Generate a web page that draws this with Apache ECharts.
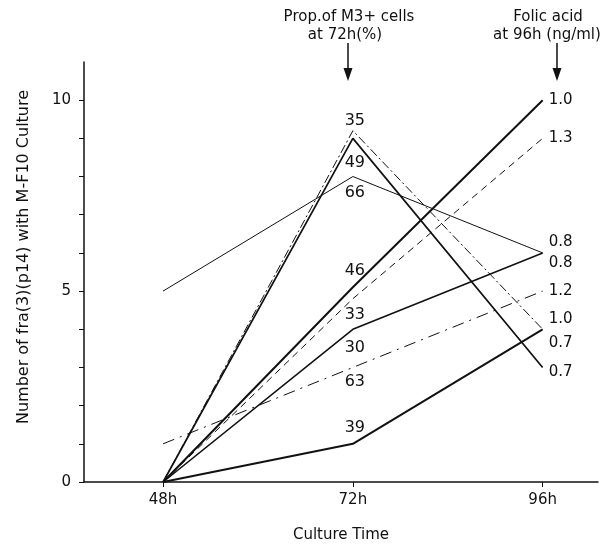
<!DOCTYPE html>
<html>
<head>
<meta charset="utf-8">
<script src="https://cdn.jsdelivr.net/npm/echarts@6/dist/echarts.min.js"></script>
<style>
  html, body { margin: 0; padding: 0; background: #fff; }
  #chart { width: 616px; height: 548px; }
</style>
</head>
<body>
<div id="chart"></div>
<script>
// culture time (hours) and tick labels
const hours = [48, 72, 96];
const hourLabels = ['48h', '72h', '96h'];
const yTickValues = [0, 5, 10];

// number of fra(3)(p14) at 48h, 72h, 96h for each culture
const cultureA = [0, 9.2, 4];
const cultureB = [0, 9, 3];
const cultureC = [5, 8, 6];
const cultureD = [0, 5.1, 10];
const cultureE = [0, 4.8, 9];
const cultureF = [0, 4, 6];
const cultureG = [1, 3, 5];
const cultureH = [0, 1, 4];

// proportion of M3+ cells at 72h (%) and folic acid at 96h (ng/ml)
const m3Labels = ['35', '49', '66', '46', '33', '30', '63', '39'];
const folicLabels = ['1.0', '0.7', '0.8', '1.0', '1.3', '0.8', '1.2', '0.7'];

const cultures = [cultureA, cultureB, cultureC, cultureD, cultureE, cultureF, cultureG, cultureH];

// line look and label nudges, one per culture
const looks = [
  { width: 1, type: [9, 3, 2, 3], m3Off: [2, -10], folicOff: [0, -10] },
  { width: 1.7, type: 'solid', m3Off: [2, 24], folicOff: [0, 5] },
  { width: 1, type: 'solid', m3Off: [2, 16], folicOff: [0, -11] },
  { width: 2, type: 'solid', m3Off: [2, -16], folicOff: [0, 0] },
  { width: 1, type: [7, 5], m3Off: [2, 16], folicOff: [0, 0] },
  { width: 1.6, type: 'solid', m3Off: [2, 19], folicOff: [0, 10] },
  { width: 1, type: [12, 6, 2, 6], m3Off: [2, 14], folicOff: [0, 0] },
  { width: 2, type: 'solid', m3Off: [2, -16], folicOff: [0, 14] }
];

const ink = '#111';
const font = 'DejaVu Sans';

const series = cultures.map((vals, k) => ({
  type: 'line',
  symbol: 'circle',
  symbolSize: 0.1,
  itemStyle: { color: ink },
  lineStyle: { color: ink, width: looks[k].width, type: looks[k].type },
  data: vals.map((v, i) => {
    const item = { value: [hours[i], v] };
    if (i === 1) {
      item.label = { show: true, position: 'inside', offset: looks[k].m3Off,
        formatter: m3Labels[k], fontSize: 16 };
    } else if (i === 2) {
      item.label = { show: true, position: 'right', distance: 6, offset: looks[k].folicOff,
        formatter: folicLabels[k], fontSize: 15 };
    }
    return item;
  }),
  label: { show: false, color: ink, fontFamily: font },
  emphasis: { disabled: true }
}));

const chart = echarts.init(document.getElementById('chart'));
chart.setOption({
  animation: false,
  backgroundColor: '#fff',
  grid: { left: 84, right: 18, top: 62, bottom: 63 },
  xAxis: {
    type: 'value',
    min: 38,
    max: 103,
    name: 'Culture Time',
    nameLocation: 'middle',
    nameGap: 46,
    nameTextStyle: { color: ink, fontFamily: font, fontSize: 15 },
    axisLine: { lineStyle: { color: ink, width: 1.5 } },
    axisTick: { customValues: hours, length: 5, lineStyle: { color: ink } },
    axisLabel: {
      customValues: hours,
      formatter: v => hourLabels[hours.indexOf(v)],
      color: ink, fontFamily: font, fontSize: 15, margin: 11
    },
    splitLine: { show: false }
  },
  yAxis: {
    type: 'value',
    min: 0,
    max: 11,
    name: 'Number of fra(3)(p14) with M-F10 Culture',
    nameLocation: 'middle',
    nameGap: 52,
    nameTextStyle: { color: ink, fontFamily: font, fontSize: 16, padding: [0, 0, 0, 30] },
    axisLine: { show: true, lineStyle: { color: ink, width: 1.5 } },
    axisTick: { show: true, customValues: [0, 1, 2, 3, 4, 5, 6, 7, 8, 9, 10], length: 5, lineStyle: { color: ink } },
    axisLabel: { customValues: yTickValues, color: ink, fontFamily: font, fontSize: 15, margin: 13 },
    splitLine: { show: false }
  },
  graphic: [
    { type: 'text', x: 349, y: 17, style: { text: 'Prop.of M3+ cells', textAlign: 'center', textVerticalAlign: 'middle', font: '15px ' + font, fill: ink } },
    { type: 'text', x: 345, y: 35, style: { text: 'at 72h(%)', textAlign: 'center', textVerticalAlign: 'middle', font: '15px ' + font, fill: ink } },
    { type: 'line', shape: { x1: 348, y1: 43, x2: 348, y2: 72 }, style: { stroke: ink, lineWidth: 1.5 } },
    { type: 'polygon', shape: { points: [[343.5, 68], [352.5, 68], [348, 81]] }, style: { fill: ink } },
    { type: 'text', x: 548, y: 17, style: { text: 'Folic acid', textAlign: 'center', textVerticalAlign: 'middle', font: '15px ' + font, fill: ink } },
    { type: 'text', x: 547, y: 35, style: { text: 'at 96h (ng/ml)', textAlign: 'center', textVerticalAlign: 'middle', font: '15px ' + font, fill: ink } },
    { type: 'line', shape: { x1: 557, y1: 43, x2: 557, y2: 72 }, style: { stroke: ink, lineWidth: 1.5 } },
    { type: 'polygon', shape: { points: [[552.5, 68], [561.5, 68], [557, 81]] }, style: { fill: ink } }
  ],
  series: series
});
</script>
</body>
</html>
